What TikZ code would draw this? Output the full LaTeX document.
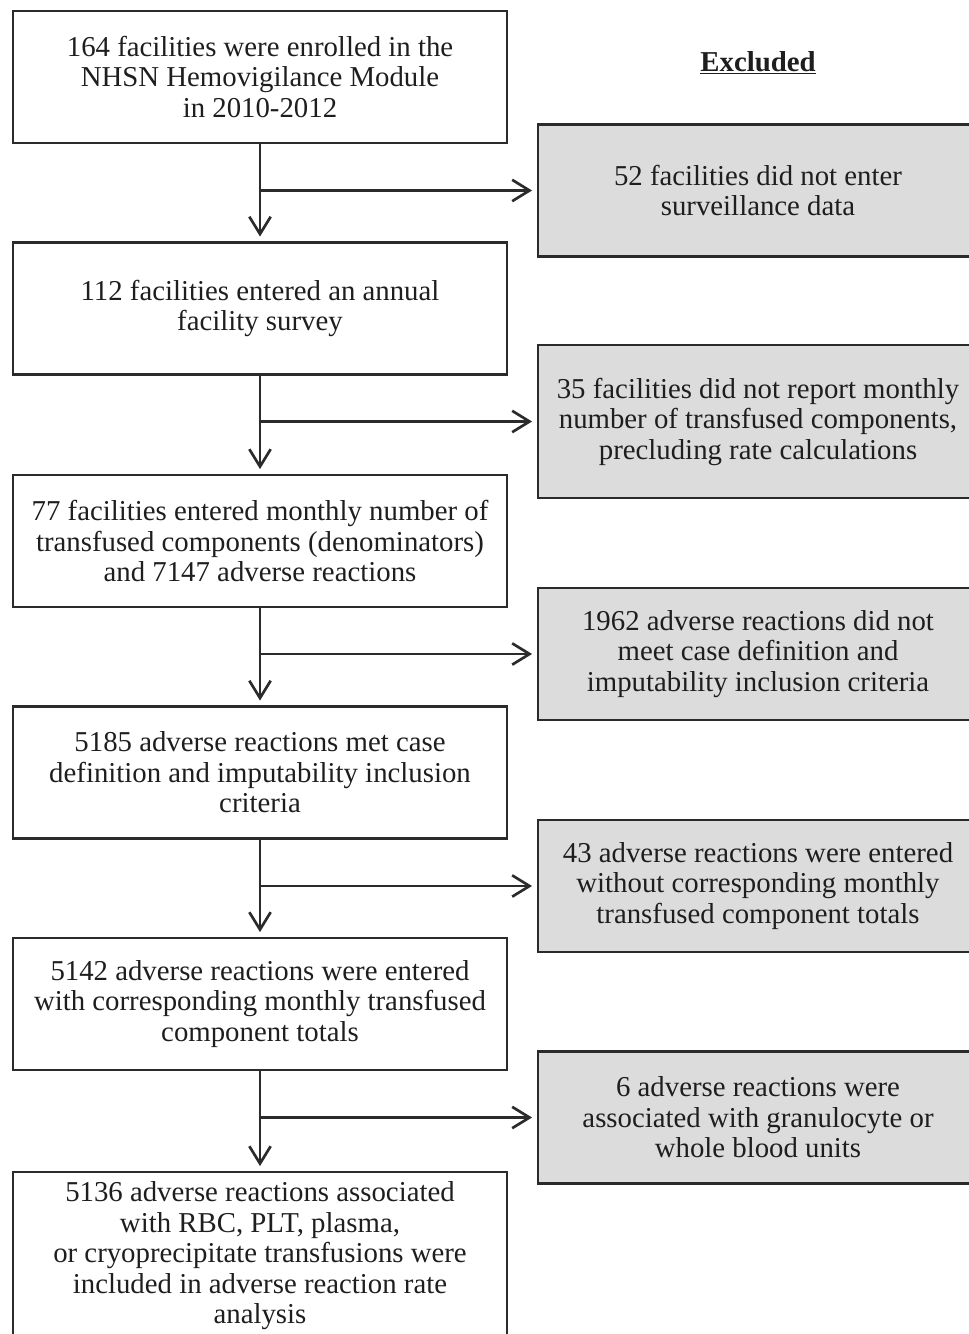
\documentclass[tikz,border=0pt]{standalone}
\usepackage{fontspec}
\setmainfont{Liberation Serif}
\usetikzlibrary{positioning,arrows.meta}
\definecolor{boxline}{HTML}{2B2B2B}
\definecolor{exclfill}{HTML}{DCDCDC}
\definecolor{boxtext}{HTML}{1E1E1E}

\tikzset{
  flowbox/.style={draw=boxline, line width=1.9pt, text=boxtext, align=center,
    minimum width=370.5pt, minimum height=99pt, inner sep=0pt,
    font=\fontsize{21.6pt}{22.9pt}\selectfont},
  exclbox/.style={flowbox, fill=exclfill, minimum width=330pt},
  flowarrow/.style={draw=boxline, line width=2pt, shorten >=3.5pt,
    -{Straight Barb[length=13pt,width=16pt]}},
}

\begin{document}
\begin{tikzpicture}[x=0.75pt,y=-0.75pt]
  \useasboundingbox (0,0) rectangle (969,1334);
  \clip (0,0) rectangle (969,1334);
  % main column
  \node[flowbox] (enrolled) at (260,77)
        {164 facilities were enrolled in the\\ NHSN Hemovigilance Module\\ in 2010-2012};
  \node[flowbox] (survey) at (260,308.5)
        {112 facilities entered an annual\\ facility survey};
  \node[flowbox] (denom) at (260,541)
        {77 facilities entered monthly number of\\ transfused components (denominators)\\ and 7147 adverse reactions};
  \node[flowbox] (metdef) at (260,772.5)
        {5185 adverse reactions met case\\ definition and imputability inclusion\\ criteria};
  \node[flowbox] (withtot) at (260,1004)
        {5142 adverse reactions were entered\\ with corresponding monthly transfused\\ component totals};
  \node[flowbox,minimum height=126pt] (included) at (260,1256)
        {5136 adverse reactions associated\\ with RBC, PLT, plasma,\\ or cryoprecipitate transfusions were\\ included in adverse reaction rate\\ analysis};
  % excluded column
  \node[text=boxtext,font=\fontsize{21.6pt}{22.9pt}\selectfont] (exclhead) at (758,63)
        {\underline{\textbf{Excluded}}};
  \node[exclbox] (nodata) at (758,190.5)
        {52 facilities did not enter\\ surveillance data};
  \node[exclbox,minimum height=114.75pt] (norate) at (758,421.5)
        {35 facilities did not report monthly\\ number of transfused components,\\ precluding rate calculations};
  \node[exclbox] (notmet) at (758,654)
        {1962 adverse reactions did not\\ meet case definition and\\ imputability inclusion criteria};
  \node[exclbox] (nototal) at (758,886)
        {43 adverse reactions were entered\\ without corresponding monthly\\ transfused component totals};
  \node[exclbox] (granulo) at (758,1117.5)
        {6 adverse reactions were\\ associated with granulocyte or\\ whole blood units};
  % arrows
  \draw[flowarrow] (enrolled) -- (survey);
  \draw[flowarrow] (survey) -- (denom);
  \draw[flowarrow] (denom) -- (metdef);
  \draw[flowarrow] (metdef) -- (withtot);
  \draw[flowarrow] (withtot.south) -- (withtot.south |- included.north);
  \draw[flowarrow] (enrolled.south |- nodata) -- (nodata);
  \draw[flowarrow] (survey.south |- norate) -- (norate);
  \draw[flowarrow] (denom.south |- notmet) -- (notmet);
  \draw[flowarrow] (metdef.south |- nototal) -- (nototal);
  \draw[flowarrow] (withtot.south |- granulo) -- (granulo);
\end{tikzpicture}
\end{document}
